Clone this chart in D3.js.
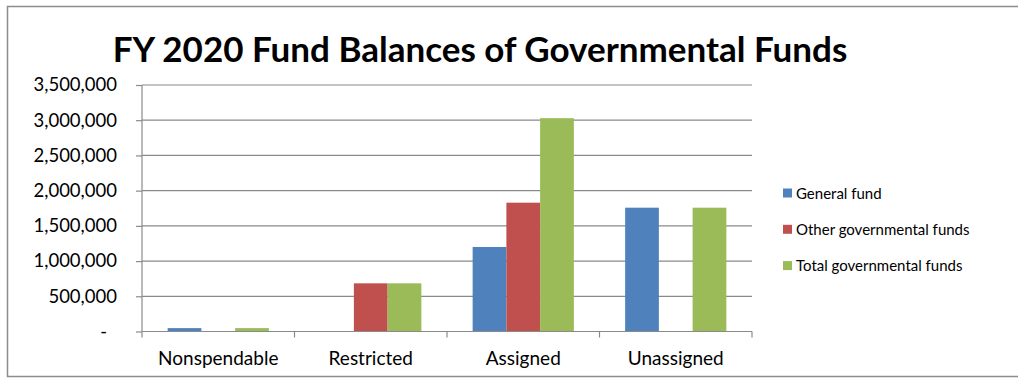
<!DOCTYPE html>
<html>
<head>
<meta charset="utf-8">
<script src="https://cdn.jsdelivr.net/npm/d3@7"></script>
<style>
  body { margin: 0; background: #fff; }
  svg text { font-family: Lato, "Open Sans", sans-serif; fill: #000; }
</style>
</head>
<body>
<svg id="chart" width="1018" height="378"></svg>
<script>
// data
var categories = ["Nonspendable", "Restricted", "Assigned", "Unassigned"];
var seriesNames = ["General fund", "Other governmental funds", "Total governmental funds"];
var generalFund = [48000, 0, 1200000, 1758000];
var otherFunds = [0, 684000, 1829000, 0];
var totalFunds = [48000, 684000, 3029000, 1758000];
var yTicks = [0, 500000, 1000000, 1500000, 2000000, 2500000, 3000000, 3500000];
var colors = ["#4F81BD", "#C0504D", "#9BBB59"];

var svg = d3.select("#chart");

// outer chart frame
svg.append("rect").attr("x", 7.5).attr("y", 6.5).attr("width", 1030).attr("height", 370)
    .attr("fill", "#fff").attr("stroke", "#8c8c8c").attr("stroke-width", 1.5);

var plotLeft = 142, plotRight = 752, plotTop = 85, plotBottom = 331.5;

var x = d3.scaleBand().domain(categories).range([plotLeft, plotRight]);
var inner = d3.scaleBand().domain(seriesNames).range([0, x.bandwidth()])
    .paddingInner(0).paddingOuter(0.76);
var y = d3.scaleLinear().domain([0, 3500000]).range([plotBottom, plotTop]);

// gridlines
svg.append("g").selectAll("line").data(yTicks.slice(1)).join("line")
    .attr("x1", plotLeft).attr("x2", plotRight)
    .attr("y1", d => y(d)).attr("y2", d => y(d))
    .attr("stroke", "#8a8a8a").attr("stroke-width", 1.2);

// y axis
var fmt = d3.format(",");
var yAxis = d3.axisLeft(y).tickValues(yTicks).tickSize(6).tickPadding(19)
    .tickFormat(d => d === 0 ? "-" : fmt(d));
var gy = svg.append("g").attr("transform", "translate(" + plotLeft + ",0)").call(yAxis);
gy.select(".domain").attr("stroke", "#8a8a8a").attr("stroke-width", 1.2).attr("d", "M0," + plotTop + "V" + plotBottom);
gy.selectAll(".tick line").attr("stroke", "#8a8a8a").attr("stroke-width", 1.2);
gy.selectAll(".tick text").style("font-size", "18.5px").style("font-family", "Lato, sans-serif").attr("fill", "#000");
gy.selectAll(".tick").filter(d => d === 0).select("text").attr("dx", -10);

// bars
var series = [generalFund, otherFunds, totalFunds];
var groups = svg.append("g").selectAll("g").data(series).join("g")
    .attr("fill", (d, i) => colors[i]);
groups.selectAll("rect").data((d, i) => d.map((v, j) => ({ v: v, cat: categories[j], s: seriesNames[i] })))
    .join("rect")
    .attr("x", d => x(d.cat) + inner(d.s))
    .attr("width", inner.bandwidth())
    .attr("y", d => y(d.v))
    .attr("height", d => y(0) - y(d.v));

// x axis
var gx = svg.append("g").attr("transform", "translate(0," + plotBottom + ")");
gx.append("line").attr("x1", plotLeft).attr("x2", plotRight).attr("stroke", "#8a8a8a").attr("stroke-width", 1.2);
var bounds = categories.map(c => x(c)).concat([plotRight]);
gx.selectAll(".xt").data(bounds).join("line").attr("class", "xt")
    .attr("x1", d => d).attr("x2", d => d).attr("y1", 0).attr("y2", 6)
    .attr("stroke", "#8a8a8a").attr("stroke-width", 1.2);
gx.selectAll(".xl").data(categories).join("text").attr("class", "xl")
    .attr("x", d => x(d) + x.bandwidth() / 2).attr("y", 33.5)
    .attr("text-anchor", "middle").style("font-size", "19px").text(d => d);

// title
svg.append("text").attr("x", 480).attr("y", 62).attr("text-anchor", "middle")
    .style("font-size", "35px").style("font-weight", "bold")
    .text("FY 2020 Fund Balances of Governmental Funds");

// legend
var legend = svg.append("g").selectAll("g").data(seriesNames).join("g")
    .attr("transform", (d, i) => "translate(783," + (193 + i * 36.3) + ")");
legend.append("rect").attr("x", 0).attr("y", -4.5).attr("width", 9).attr("height", 9)
    .attr("fill", (d, i) => colors[i]);
legend.append("text").attr("x", 13).attr("y", 5.5).style("font-size", "15px").text(d => d);
</script>
</body>
</html>
